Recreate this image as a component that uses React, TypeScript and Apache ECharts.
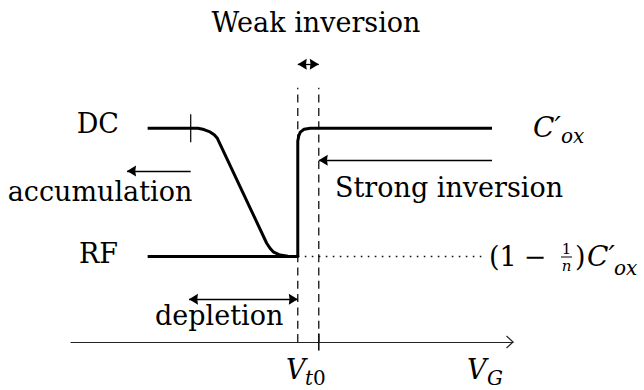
import React, { useEffect, useRef } from "react";
import * as echarts from "echarts";

// Data in diagram units: x = gate voltage with V_t0 at 0 (weak inversion spans [-1, 0]),
// y = capacitance normalised to C'ox (DC level 1, RF level 1 - 1/n = 0.4)
const xRange = [-11.8, 9.25];
const yRange = [-0.2, 1.6];
const dcCurve: [number, number][] = [
  [-8.15, 1], [-5.75, 1], [-5.47, 0.994], [-5.18, 0.983], [-4.98, 0.97], [-4.83, 0.953],
  [-2.48, 0.462], [-2.3, 0.436], [-2.17, 0.422], [-1.85, 0.407], [-1.47, 0.401], [-1, 0.4],
  [-1, 0.94], [-0.95, 0.965], [-0.88, 0.982], [-0.7, 0.995], [-0.4, 1], [8.25, 1],
];
const rfCurve: [number, number][] = [[-8.15, 0.4], [-1, 0.4]];
const rfLevelGuide: [number, number][] = [[-1, 0.4], [8.0, 0.4]];
const weakInvStart: [number, number][] = [[-1, 0], [-1, 1.19]];
const vt0Line: [number, number][] = [[0, 0], [0, 1.19]];
const dcMarker: [number, number][] = [[-6.1, 0.935], [-6.1, 1.065]];
const vt0Tick: [number, number][] = [[0, -0.04], [0, 0.04]];
const accumulationArrow: [number, number][] = [[-6.1, 0.8], [-9.13, 0.8]];
const strongInversionArrow: [number, number][] = [[8.25, 0.85], [0, 0.85]];
const weakInversionArrow: [number, number][] = [[-1, 1.3], [0, 1.3]];
const depletionArrow: [number, number][] = [[-6.18, 0.2], [-1, 0.2]];

const FAMILY = "DejaVu Serif";
const ARROW_HEAD = "path://M5,0L10,10Q5,8.2 0,10Z";

const txt = (
  text: string,
  x: number,
  y: number,
  size: number,
  align: string = "left",
  italic = false
) => ({
  type: "text",
  x,
  y,
  silent: true,
  style: {
    text,
    fontFamily: FAMILY,
    fontSize: size,
    fontStyle: italic ? "italic" : "normal",
    fontWeight: "normal",
    fill: "#000",
    align,
    verticalAlign: "middle",
  },
});

const thin = (data: [number, number][], width = 1.3, type: any = "solid") => ({
  type: "line",
  data,
  symbol: "none",
  silent: true,
  clip: false,
  lineStyle: { color: "#111", width, type },
});

const arrow = (data: [number, number][], both: boolean) => ({
  type: "line",
  data: [],
  silent: true,
  clip: false,
  markLine: {
    silent: true,
    symbol: [both ? ARROW_HEAD : "none", ARROW_HEAD],
    symbolSize: [11, 9],
    symbolOffset: [[0, 4.5], [0, 4.5]],
    label: { show: false },
    emphasis: { disabled: true },
    lineStyle: { color: "#000", width: 1.3, type: "solid" },
    data: [[{ coord: data[0] }, { coord: data[1] }]],
  },
});

export default function App() {
  const ref = useRef<HTMLDivElement>(null);
  useEffect(() => {
    document.body.style.margin = "0";
    const chart = echarts.init(ref.current!, null, { renderer: "svg" });
    chart.setOption({
      animation: false,
      backgroundColor: "#fff",
      grid: { left: 71, right: 131, top: 0, bottom: 5.25 },
      xAxis: {
        type: "value",
        min: xRange[0],
        max: xRange[1],
        axisLine: {
          show: true,
          onZero: true,
          symbol: ["none", "path://M0,7L6.5,0L13,7L12,7.8L6.5,1.8L1,7.8Z"],
          symbolSize: [13, 8],
          symbolOffset: [0, -3],
          lineStyle: { color: "#222", width: 1.2 },
        },
        axisTick: { show: false },
        axisLabel: { show: false },
        splitLine: { show: false },
      },
      yAxis: {
        type: "value",
        min: yRange[0],
        max: yRange[1],
        show: false,
        splitLine: { show: false },
      },
      series: [
        thin(weakInvStart, 1.3, [8, 5.3]),
        thin(vt0Line, 1.3, [8, 5.3]),
        thin(rfLevelGuide, 1.6, [1.6, 5.4]),
        thin(dcMarker, 1.3),
        thin(vt0Tick, 1.6),
        {
          type: "line",
          data: rfCurve,
          symbol: "none",
          silent: true,
          lineStyle: { color: "#000", width: 3 },
        },
        {
          type: "line",
          data: dcCurve,
          symbol: "none",
          silent: true,
          lineStyle: { color: "#000", width: 3, join: "round" },
        },
        arrow(accumulationArrow, false),
        arrow(strongInversionArrow, false),
        arrow(weakInversionArrow, true),
        arrow(depletionArrow, true),
      ],
      graphic: [
        txt("Weak inversion", 316, 22.7, 27, "center"),
        txt("DC", 119, 123.7, 27, "right"),
        txt("accumulation", 100, 191.7, 27, "center"),
        txt("RF", 118, 253, 27, "right"),
        txt("Strong inversion", 335, 187.7, 27),
        txt("depletion", 155, 315.7, 27),
        txt("C\u2032", 533, 127.3, 28, "left", true),
        txt("ox", 561, 136.1, 20, "left", true),
        txt("(1", 489, 256.7, 27),
        txt("\u2212", 535, 256.7, 27, "center"),
        txt("1", 566.5, 248.8, 15, "center"),
        {
          type: "line",
          silent: true,
          shape: { x1: 561, y1: 257, x2: 572, y2: 257 },
          style: { stroke: "#000", lineWidth: 1 },
        },
        txt("n", 566.5, 266.3, 15, "center", true),
        txt(")", 575, 256.7, 27),
        txt("C\u2032", 587, 256.7, 28, "left", true),
        txt("ox", 614, 268, 20, "left", true),
        txt("V", 286, 369.7, 27, "left", true),
        txt("t", 305, 378, 20, "left", true),
        txt("0", 313, 378, 20),
        txt("V", 467, 369.7, 27, "left", true),
        txt("G", 487, 378, 20, "left", true),
      ],
    });
    return () => chart.dispose();
  }, []);
  return <div ref={ref} style={{ width: 644, height: 390 }} />;
}
